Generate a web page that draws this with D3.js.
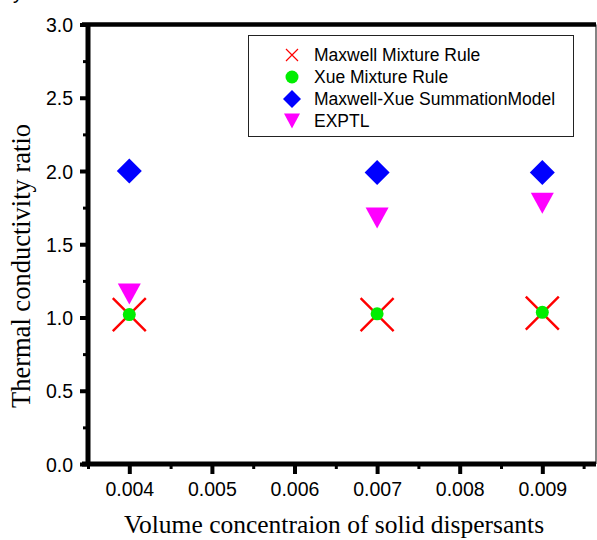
<!DOCTYPE html>
<html>
<head>
<meta charset="utf-8">
<script src="https://cdn.jsdelivr.net/npm/d3@7"></script>
<style>
  body { margin: 0; background: #fff; }
  .tick text { font-family: "Liberation Sans", Arial, sans-serif; font-size: 19.5px; fill: #000; }
  .axisTitle { font-family: "Liberation Serif", "Times New Roman", serif; fill: #000; }
  .legendText { font-family: "Liberation Sans", Arial, sans-serif; font-size: 17.5px; fill: #000; }
</style>
</head>
<body>
<div id="chart"></div>
<script>
var svgWidth = 597;
var svgHeight = 540;

// data
var concentration = [0.004, 0.007, 0.009];
var maxwell = [1.02, 1.02, 1.03];
var xue = [1.02, 1.025, 1.035];
var maxwellXue = [2.0, 1.99, 1.99];
var exptl = [1.16, 1.68, 1.78];
var seriesNames = ["Maxwell Mixture Rule", "Xue Mixture Rule", "Maxwell-Xue SummationModel", "EXPTL"];
var xTicks = [0.004, 0.005, 0.006, 0.007, 0.008, 0.009];
var yTicks = [0.0, 0.5, 1.0, 1.5, 2.0, 2.5, 3.0];

var plot = { left: 88, right: 596, top: 24.5, bottom: 464 };

var svg = d3.select("#chart")
  .append("svg")
  .attr("width", svgWidth)
  .attr("height", svgHeight);

var x = d3.scaleLinear()
  .domain([0.0035, 0.00965])
  .range([plot.left, plot.right]);

var y = d3.scaleLinear()
  .domain([0, 3])
  .range([plot.bottom, plot.top]);

// cropped glyph at the very top left (cut off in the original as well)
svg.append("text")
  .attr("x", 13)
  .attr("y", -1)
  .style("font-family", "Liberation Sans, Arial, sans-serif")
  .style("font-size", "20px")
  .text("y");

// minor ticks
var xMinor = d3.range(0.0035, 0.0096, 0.001).map(d => +d.toFixed(4));
svg.append("g")
  .attr("transform", `translate(0, ${plot.bottom})`)
  .call(d3.axisBottom(x).tickValues(xMinor).tickSize(5).tickFormat(""))
  .call(g => g.select(".domain").remove())
  .selectAll("line").attr("stroke", "#000").attr("stroke-width", 3);

svg.append("g")
  .attr("transform", `translate(${plot.left}, 0)`)
  .call(d3.axisLeft(y).tickValues([0.25, 0.75, 1.25, 1.75, 2.25, 2.75]).tickSize(5).tickFormat(""))
  .call(g => g.select(".domain").remove())
  .selectAll("line").attr("stroke", "#000").attr("stroke-width", 3);

// major axes
var xAxis = svg.append("g")
  .attr("transform", `translate(0, ${plot.bottom})`)
  .call(d3.axisBottom(x).tickValues(xTicks).tickSize(10).tickPadding(8).tickFormat(d3.format(".3f")));
xAxis.select(".domain").remove();
xAxis.selectAll("line").attr("stroke", "#000").attr("stroke-width", 4);

var yAxis = svg.append("g")
  .attr("transform", `translate(${plot.left}, 0)`)
  .call(d3.axisLeft(y).tickValues(yTicks).tickSize(8).tickPadding(7).tickFormat(d3.format(".1f")));
yAxis.select(".domain").remove();
yAxis.selectAll("line").attr("stroke", "#000").attr("stroke-width", 4);
yAxis.selectAll("text").attr("dy", "0.36em");

// frame
svg.append("line")
  .attr("x1", plot.right).attr("x2", plot.right)
  .attr("y1", plot.top).attr("y2", plot.bottom)
  .attr("stroke", "#333").attr("stroke-width", 1.2);
svg.append("line")
  .attr("x1", plot.left - 6).attr("x2", plot.right)
  .attr("y1", plot.top).attr("y2", plot.top)
  .attr("stroke", "#000").attr("stroke-width", 4.5);
svg.append("line")
  .attr("x1", plot.left - 6).attr("x2", plot.right)
  .attr("y1", plot.bottom).attr("y2", plot.bottom)
  .attr("stroke", "#000").attr("stroke-width", 5);
svg.append("line")
  .attr("x1", plot.left).attr("x2", plot.left)
  .attr("y1", plot.top).attr("y2", plot.bottom + 2)
  .attr("stroke", "#000").attr("stroke-width", 5);

// marker drawing helpers
function drawCross(g, cx, cy, h) {
  g.append("path")
    .attr("d", `M${cx - h},${cy - h}L${cx + h},${cy + h}M${cx - h},${cy + h}L${cx + h},${cy - h}`)
    .attr("stroke", "#ff0000").attr("stroke-width", h > 10 ? 2.4 : 1.2).attr("fill", "none");
}
function drawCircle(g, cx, cy, r) {
  g.append("circle").attr("cx", cx).attr("cy", cy).attr("r", r).attr("fill", "#00ee00");
}
function drawDiamond(g, cx, cy, h) {
  g.append("path")
    .attr("d", `M${cx},${cy - h}L${cx + h},${cy}L${cx},${cy + h}L${cx - h},${cy}Z`)
    .attr("fill", "#0000ff");
}
function drawTriangle(g, cx, cy, w, hgt) {
  g.append("path")
    .attr("d", `M${cx - w / 2},${cy - hgt / 2}L${cx + w / 2},${cy - hgt / 2}L${cx},${cy + hgt / 2}Z`)
    .attr("fill", "#ff00ff");
}

var marks = svg.append("g");
concentration.forEach(function (c, i) {
  drawDiamond(marks, x(c), y(maxwellXue[i]), 12.5);
  drawTriangle(marks, x(c), y(exptl[i]), 23, 21);
  drawCross(marks, x(c), y(maxwell[i]), 16.5);
  drawCircle(marks, x(c), y(xue[i]), 6.5);
});

// legend
var legend = svg.append("g");
legend.append("rect")
  .attr("x", 248.5).attr("y", 35.5)
  .attr("width", 325).attr("height", 101)
  .attr("fill", "#fff").attr("stroke", "#222").attr("stroke-width", 1);

var legendY = [55, 77, 99, 121];
var symX = 292;
drawCross(legend, symX, legendY[0], 6);
drawCircle(legend, symX, legendY[1], 6.5);
drawDiamond(legend, symX, legendY[2], 9);
drawTriangle(legend, symX, legendY[3], 16, 15);

legend.selectAll(".legendText")
  .data(seriesNames)
  .enter()
  .append("text")
  .attr("class", "legendText")
  .attr("x", 314)
  .attr("y", (d, i) => legendY[i])
  .attr("dy", "0.36em")
  .text(d => d);

// axis titles
svg.append("text")
  .attr("class", "axisTitle")
  .attr("text-anchor", "middle")
  .style("font-size", "25.5px")
  .attr("x", 334)
  .attr("y", 533)
  .text("Volume concentraion of solid dispersants");

svg.append("text")
  .attr("class", "axisTitle")
  .attr("text-anchor", "middle")
  .style("font-size", "26.5px")
  .attr("transform", "translate(30, 266) rotate(-90)")
  .text("Thermal conductivity ratio");
</script>
</body>
</html>
